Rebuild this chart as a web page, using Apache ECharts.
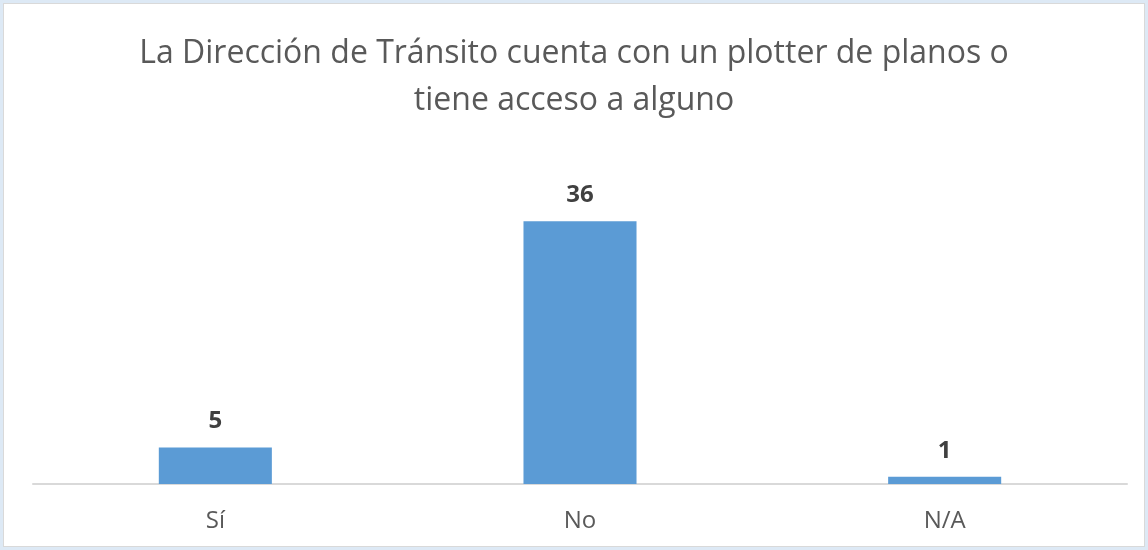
<!DOCTYPE html>
<html>
<head>
<meta charset="utf-8">
<script src="https://cdn.jsdelivr.net/npm/echarts@6/dist/echarts.min.js"></script>
<style>
  html, body { margin: 0; padding: 0; background: #dde9f5; }
  #frame {
    position: absolute; left: 3px; top: 3px;
    width: 1140px; height: 542px;
    background: #fff; border: 1px solid #d9d9d9;
  }
  #chart { width: 1148px; height: 550px; position: absolute; left: -4px; top: -4px; }
</style>
</head>
<body>
<div id="frame"><div id="chart"></div></div>
<script>
const titleText = 'La Dirección de Tránsito cuenta con un plotter de planos o\ntiene acceso a alguno'
const categories = ['Sí', 'No', 'N/A']
const values = [5, 36, 1]

const chart = echarts.init(document.getElementById('chart'))
chart.setOption({
  animation: false,
  title: {
    text: titleText,
    left: 'center',
    top: 25,
    textStyle: {
      fontFamily: 'Open Sans',
      fontSize: 32,
      fontWeight: 'normal',
      color: '#595959',
      lineHeight: 47
    }
  },
  grid: { left: 33, right: 21, top: 192, bottom: 66 },
  xAxis: {
    type: 'category',
    data: categories,
    axisTick: { show: false },
    axisLine: { lineStyle: { color: '#d9d9d9', width: 2 } },
    axisLabel: {
      margin: 25,
      fontFamily: 'Open Sans',
      fontSize: 24,
      color: '#595959'
    }
  },
  yAxis: {
    type: 'value',
    min: 0,
    max: 40,
    show: false
  },
  series: [{
    type: 'bar',
    data: values,
    barWidth: '31%',
    itemStyle: { color: '#5b9bd5' },
    label: {
      show: true,
      position: 'top',
      distance: 14,
      fontFamily: 'Open Sans',
      fontSize: 24,
      fontWeight: 'bold',
      color: '#404040'
    }
  }]
})
</script>
</body>
</html>
